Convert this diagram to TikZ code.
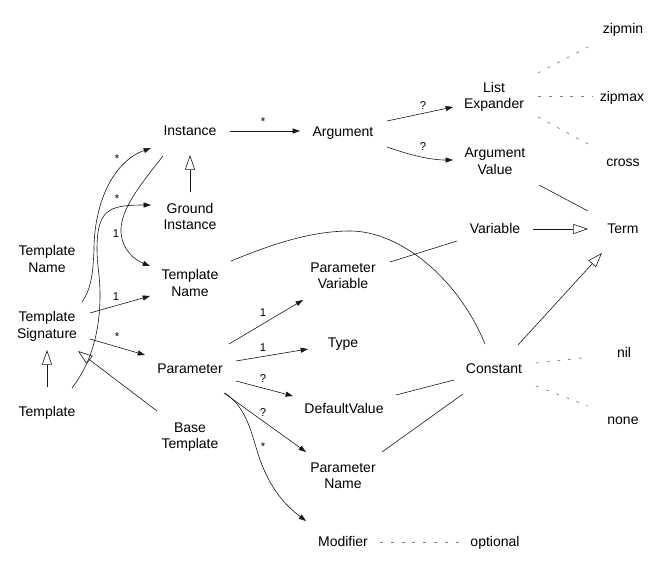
\documentclass[tikz,border=0pt]{standalone}
\usepackage{fontspec}
\setmainfont{Liberation Sans}
\usetikzlibrary{arrows.meta,calc}
\newcommand\st{\rule[-2.1pt]{0pt}{12pt}}
\begin{document}
\begin{tikzpicture}[x=0.75pt,y=-0.75pt,
  nd/.style={inner sep=0pt,align=center,font=\fontsize{10.5}{12}\selectfont},
  lbl/.style={inner sep=0pt,font=\fontsize{8.5}{10}\selectfont},
  edge/.style={line width=0.45pt,black!90},
  arr/.style={edge,-{Triangle[length=5.5pt,width=3.8pt]}},
  inh/.style={edge,-{Triangle[open,length=11pt,width=7.5pt]}},
  dots/.style={line width=0.5pt,black!50,dash pattern=on 2.2pt off 5.9pt},
]
\useasboundingbox (0,0) rectangle (665,572);
% nodes
\node[nd] (inst)   at (190,130) {\st Instance};
\node[nd] (arg)    at (343,131) {\st Argument};
\node[nd] (lexp)   at (494,95)  {\st List\\\st Expander};
\node[nd] (aval)   at (495,161) {\st Argument\\\st Value};
\node[nd] (zipmin) at (623,28)  {\st zipmin};
\node[nd] (zipmax) at (622,96)  {\st zipmax};
\node[nd] (cross)  at (623,161) {\st cross};
\node[nd] (term)   at (623,228) {\st Term};
\node[nd] (var)    at (495,228) {\st Variable};
\node[nd] (ginst)  at (190,216) {\st Ground\\\st Instance};
\node[nd] (tnl)    at (47,259)  {\st Template\\\st Name};
\node[nd] (tnm)    at (190,283) {\st Template\\\st Name};
\node[nd] (pvar)   at (343,275) {\st Parameter\\\st Variable};
\node[nd] (tsig)   at (47,325)  {\st Template\\\st Signature};
\node[nd] (param)  at (190,368) {\st Parameter};
\node[nd] (type)   at (343,342) {\st Type};
\node[nd] (const)  at (494,368) {\st Constant};
\node[nd] (nil)    at (624,352) {\st nil};
\node[nd] (none)   at (623,419) {\st none};
\node[nd] (templ)  at (47,411)  {\st Template};
\node[nd] (btempl) at (190,435) {\st Base\\\st Template};
\node[nd] (dval)   at (344,408) {\st DefaultValue};
\node[nd] (pname)  at (343,475) {\st Parameter\\\st Name};
\node[nd] (mod)    at (343,541) {\st Modifier};
\node[nd] (opt)    at (495,541) {\st optional};
% labels
\node[lbl] (la) at (263,122) {*};
\node[lbl] (lb) at (423,106) {?};
\node[lbl] (lc) at (423,147) {?};
\node[lbl] (ld) at (117,159) {*};
\node[lbl] (le) at (117,199) {*};
\node[lbl] (lf) at (116,234) {1};
\node[lbl] (lg) at (116,297) {1};
\node[lbl] (lh) at (117,337) {*};
\node[lbl] (li) at (263,313) {1};
\node[lbl] (lj) at (263,348) {1};
\node[lbl] (lk) at (263,379) {?};
\node[lbl] (ll) at (263,413) {?};
\node[lbl] (lm) at (263,447) {*};
% edges
\draw[arr] ($(inst)+(40,1)$) -- ($(arg)+(-43,0)$);
\draw[arr] ($(arg)+(44,-10)$) -- ($(lexp)+(-41,12)$);
\draw[arr] ($(arg)+(44,16)$) .. controls ($(arg)+(67,24)$) and ($(aval)+(-65,-1)$) .. ($(aval)+(-42,-1)$);
\draw[dots] ($(lexp)+(44,-22)$) -- ($(zipmin)+(-35,19)$);
\draw[dots] ($(lexp)+(44,1)$) -- ($(zipmax)+(-29,0)$);
\draw[dots] ($(lexp)+(44,22)$) -- ($(cross)+(-35,-17)$);
\draw[edge] ($(aval)+(44,24)$) -- ($(term)+(-35,-17)$);
\draw[inh] ($(var)+(38,1)$) -- ($(term)+(-35,1)$);
\draw[inh] ($(const)+(24,-23)$) -- ($(term)+(-21,25)$);
\draw[edge] ($(pvar)+(47,-13)$) -- ($(var)+(-38,13)$);
\draw[edge] ($(tnm)+(41,-22)$) .. controls ($(tnm)+(80,-38)$) and ($(tnm)+(120,-52)$) .. ($(tnm)+(160,-52)$)
   .. controls ($(const)+(-94,-137)$) and ($(const)+(-36,-90)$) .. ($(const)+(-9,-24)$);
\draw[dots] ($(const)+(42,-5)$) -- ($(nil)+(-42,6)$);
\draw[dots] ($(const)+(42,18)$) -- ($(none)+(-35,-13)$);
\draw[edge] ($(dval)+(52,-13)$) -- ($(const)+(-40,12)$);
\draw[edge] ($(pname)+(39,-23)$) -- ($(const)+(-31,26)$);
\draw[dots] ($(mod)+(37,1)$) -- ($(opt)+(-35,1)$);
\draw[inh] ($(ginst)+(0,-24)$) -- ($(inst)+(0,25)$);
\draw[inh] ($(templ)+(0,-24)$) -- ($(tsig)+(0,25)$);
\draw[inh] ($(btempl)+(-33,-24)$) -- ($(tsig)+(31,26)$);
\draw[arr] ($(tsig)+(43,-12)$) -- ($(tnm)+(-40,13)$);
\draw[arr] ($(tsig)+(43,14)$) -- ($(param)+(-45,-13)$);
\draw[arr] ($(param)+(39,-24)$) -- ($(pvar)+(-40,25)$);
\draw[arr] ($(param)+(46,-7)$) -- ($(type)+(-35,7)$);
\draw[arr] ($(param)+(46,13)$) -- ($(dval)+(-51,-12)$);
\draw[arr] ($(param)+(34,25)$) -- ($(pname)+(-37,-23)$);
\draw[arr] ($(param)+(35,25)$) .. controls ($(param)+(60,42)$) and ($(param)+(62,72)$) .. ($(param)+(72,97)$)
   .. controls ($(mod)+(-71,-51)$) and ($(mod)+(-58,-36)$) .. ($(mod)+(-37,-20)$);
\draw[arr] ($(tsig)+(35,-23)$) .. controls ($(tsig)+(45,-37)$) and ($(tsig)+(46,-55)$) .. ($(tsig)+(47,-75)$)
   .. controls ($(tsig)+(47,-120)$) and ($(inst)+(-78,32)$) .. ($(inst)+(-39,18)$);
\draw[arr] ($(templ)+(25,-23)$) .. controls ($(templ)+(45,-49)$) and ($(templ)+(53,-81)$) .. ($(templ)+(53,-116)$)
   .. controls ($(templ)+(53,-136)$) and ($(templ)+(50,-146)$) .. ($(templ)+(50,-161)$)
   .. controls ($(ginst)+(-93,-6)$) and ($(ginst)+(-82,-11)$) .. ($(ginst)+(-39,-11)$);
\draw[arr] ($(inst)+(-27,26)$) .. controls ($(inst)+(-50,55)$) and ($(inst)+(-70,80)$) .. ($(inst)+(-69,102)$)
   .. controls ($(tnm)+(-68,-33)$) and ($(tnm)+(-55,-23)$) .. ($(tnm)+(-40,-17)$);
\end{tikzpicture}
\end{document}
